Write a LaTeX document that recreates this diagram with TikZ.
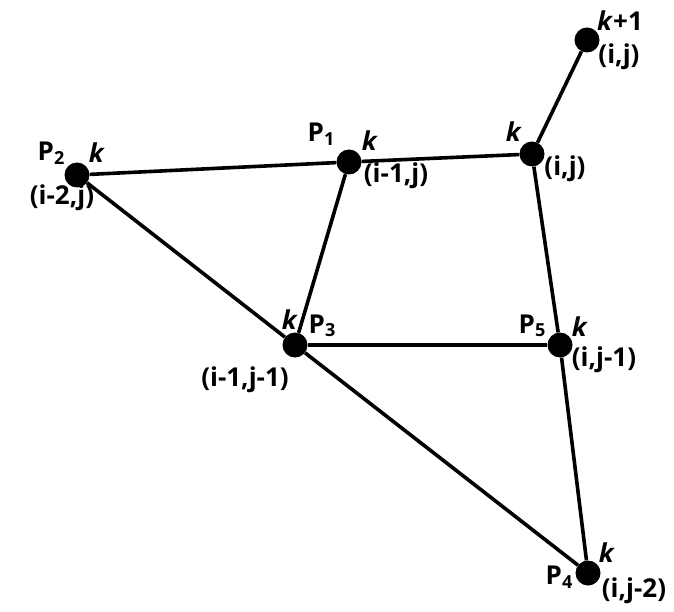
\documentclass[tikz,border=0pt]{standalone}
\usepackage{fontspec}
\setmainfont{Open Sans}
\newcommand{\subd}[1]{\raisebox{-0.25ex}{\fontsize{18}{18}\selectfont #1}}
\newcommand{\kk}{\textit{k}}
\tikzset{
  dot/.style={circle, fill=black, inner sep=0pt, minimum size=25pt},
  lab/.style={inner sep=0pt, font=\fontsize{26}{28}\selectfont\bfseries},
  edge/.style={line width=3.6pt, black}
}
\begin{document}
\begin{tikzpicture}[x=1pt,y=-1pt]
\useasboundingbox (0,0) rectangle (674,612);
% points
\node[dot] (p2) at (77,175) {};
\node[dot] (p1) at (349,162) {};
\node[dot] (ij) at (532,154) {};
\node[dot] (kp) at (587,40) {};
\node[dot] (p3) at (295,345) {};
\node[dot] (p5) at (560,345) {};
\node[dot] (p4) at (588,573) {};
% connectors
\draw[edge] (p2) -- (p1);
\draw[edge] (p1) -- (ij);
\draw[edge] (ij) -- (kp);
\draw[edge] (p2) -- (p3);
\draw[edge] (p3) -- (p4);
\draw[edge] (p1) -- (p3);
\draw[edge] (p3) -- (p5);
\draw[edge] (ij) -- (p5);
\draw[edge] (p5) -- (p4);
% labels
\node[lab] (lp2) at (51,153) {P\subd{2}};
\node[lab] (kp2) at (97,153) {\kk};
\node[lab] (cp2) at (62,198) {(i-2,j)};
\node[lab] (lp1) at (321,134) {P\subd{1}};
\node[lab] (kp1) at (370,141) {\kk};
\node[lab] (cp1) at (396,176) {(i-1,j)};
\node[lab] (kij) at (514,132) {\kk};
\node[lab] (cij) at (565,169) {(i,j)};
\node[lab] (kkp) at (620,21) {\kk+1};
\node[lab] (ckp) at (619,57) {(i,j)};
\node[lab] (kp3) at (290,320) {\kk};
\node[lab] (lp3) at (322,326) {P\subd{3}};
\node[lab] (cp3) at (245,380) {(i-1,j-1)};
\node[lab] (lp5) at (532,326) {P\subd{5}};
\node[lab] (kp5) at (580,327) {\kk};
\node[lab] (cp5) at (604,360) {(i,j-1)};
\node[lab] (lp4) at (559,577) {P\subd{4}};
\node[lab] (kp4) at (607,553) {\kk};
\node[lab] (cp4) at (634,591) {(i,j-2)};
\end{tikzpicture}
\end{document}
